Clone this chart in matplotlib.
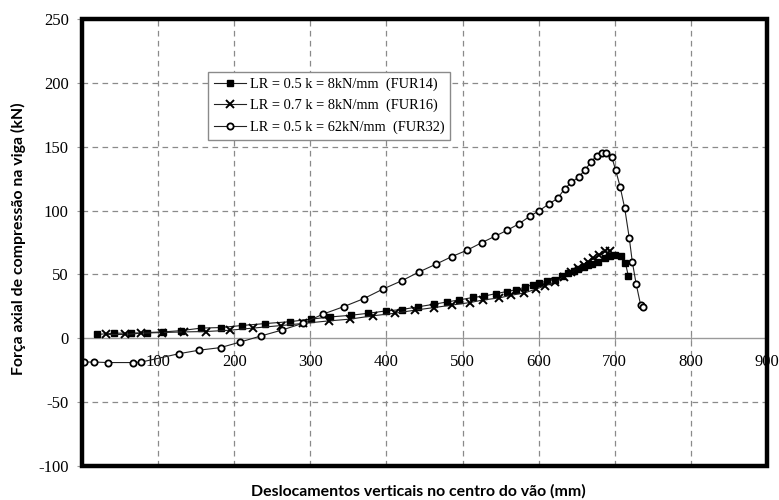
"""
Axial force vs mid-span displacement
"""

import matplotlib
matplotlib.use("Agg")
import matplotlib.pyplot as plt
from matplotlib.patches import Rectangle

# FUR14 - LR = 0.5, k = 8kN/mm
fur14_x = [20, 42, 64, 85, 107, 130, 157, 182, 210, 240, 273, 301, 326, 353, 376, 399,
           420, 441, 462, 480, 495, 514, 528, 544, 558, 570, 582, 592, 601, 611, 621,
           630, 639, 646, 652, 659, 665, 670, 678, 687, 694, 700, 708, 714, 718]
fur14_y = [3, 4, 4, 4.5, 5, 6, 8, 8.4, 10, 11.5, 13, 15, 16.7, 18, 19.6, 21.4,
           22.5, 24.6, 26.6, 28.5, 30, 32, 33, 35, 36.6, 38, 40, 42, 43.4, 44.7, 46,
           48.5, 51, 52.5, 54, 55.5, 57, 58, 60, 62.7, 64.5, 65.5, 64.5, 58.7, 48.4]

# FUR16 - LR = 0.7, k = 8kN/mm
fur16_x = [31, 57, 78, 105, 134, 163, 194, 225, 262, 290, 324, 352, 382, 411, 437, 462,
           486, 510, 527, 548, 564, 581, 596, 608, 621, 633, 643, 652, 659, 665, 672,
           679, 687, 694]
fur16_y = [3, 3, 4, 4.5, 5, 5.3, 6.3, 8, 10, 11.6, 13.6, 15, 17.6, 19.6, 22, 24,
           26, 28, 30, 31.6, 33.7, 35.5, 38.4, 41, 44, 48, 52, 55, 57.5, 60, 62.5,
           65, 68, 68.5]

# FUR32 - LR = 0.5, k = 62kN/mm
fur32_x = [2, 16, 34, 67, 78, 128, 154, 182, 208, 235, 263, 290, 317, 344, 370, 396,
           420, 443, 465, 486, 506, 525, 543, 559, 574, 588, 601, 613, 625, 634, 643,
           653, 661, 669, 676, 683, 689, 696, 701, 707, 713, 719, 723, 728, 734, 737]
fur32_y = [-18.6, -18.6, -19, -19, -18.6, -12, -9.3, -7.3, -2.9, 1.8, 6.5, 11.7, 19, 24.8, 31, 38.7,
           45, 52, 58, 64, 69, 74.8, 80, 84.7, 89.6, 95.4, 100, 105, 109.6, 117, 122,
           126.5, 132, 138, 143, 145, 145, 142, 132, 118.7, 102, 78.7, 60, 42.8, 26, 24.6]

labels = ["LR = 0.5 k = 8kN/mm  (FUR14)",
          "LR = 0.7 k = 8kN/mm  (FUR16)",
          "LR = 0.5 k = 62kN/mm  (FUR32)"]

x_ticks = [0, 100, 200, 300, 400, 500, 600, 700, 800, 900]
y_ticks = [-100, -50, 0, 50, 100, 150, 200, 250]

xlabel = "Deslocamentos verticais no centro do vão (mm)"
ylabel = "Força axial de compressão na viga (kN)"


def main():
    serif = "Liberation Serif"
    sans = "Lato"

    fig = plt.figure(figsize=(7.79, 5.0), dpi=100)
    ax = fig.add_axes([82 / 779, 1 - 466 / 500, 685 / 779, 447 / 500])

    ax.set_xlim(0, 900)
    ax.set_ylim(-100, 250)

    # dashed grid, zero line is the x axis itself
    for xv in x_ticks[1:-1]:
        ax.axvline(xv, color="#8a8a8a", lw=0.9, ls=(0, (4.5, 3.5)), zorder=1)
    for yv in y_ticks[1:-1]:
        if yv != 0:
            ax.axhline(yv, color="#8a8a8a", lw=0.9, ls=(0, (4.5, 3.5)), zorder=1)

    ax.plot(fur14_x, fur14_y, "-", color="#222222", lw=0.8, marker="s", ms=4.5,
            mfc="black", mec="black", label=labels[0], zorder=3)
    ax.plot(fur16_x, fur16_y, "-", color="#222222", lw=0.8, marker="x", ms=6,
            mew=1.4, mec="black", label=labels[1], zorder=3)
    ax.plot(fur32_x, fur32_y, "-", color="#222222", lw=0.8, marker="o", ms=4.5,
            mew=1.3, mfc="white", mec="black", label=labels[2], zorder=3)

    # x axis at y = 0, labels under it
    for s in ["top", "right", "left"]:
        ax.spines[s].set_visible(False)
    ax.spines["bottom"].set_position(("data", 0))
    ax.spines["bottom"].set_color("#9a9a9a")
    ax.spines["bottom"].set_linewidth(1.0)

    ax.set_xticks(x_ticks)
    ax.set_xticklabels([""] + [str(v) for v in x_ticks[1:]])
    ax.set_yticks(y_ticks)
    ax.set_yticklabels([str(v) for v in y_ticks])
    ax.tick_params(axis="x", direction="inout", length=4, width=0.8, color="#9a9a9a",
                   pad=9, labelsize=12)
    ax.tick_params(axis="y", direction="out", length=3.5, width=0.8, color="#9a9a9a",
                   pad=6, labelsize=12)
    for t in ax.get_xticklabels() + ax.get_yticklabels():
        t.set_fontfamily(serif)

    # heavy black frame
    ax.add_patch(Rectangle((0, 0), 1, 1, transform=ax.transAxes, fill=False,
                           ec="black", lw=3.2, clip_on=False, zorder=6))

    leg = ax.legend(loc="upper left", bbox_to_anchor=(0.184, 0.882), frameon=True,
                    fancybox=False, edgecolor="#8a8a8a", framealpha=1,
                    prop={"family": serif, "size": 10.4}, handlelength=2.2,
                    handletextpad=0.3, labelspacing=0.55, borderpad=0.4,
                    borderaxespad=0)
    leg.get_frame().set_linewidth(1.0)
    leg.set_zorder(7)

    fig.text(418 / 779, 1 - 491 / 500, xlabel, ha="center", va="center",
             fontsize=11.4, fontweight="bold", family=sans)
    fig.text(18 / 779, 1 - 239 / 500, ylabel, ha="center", va="center",
             rotation=90, fontsize=11.4, fontweight="bold", family=sans)

    fig.savefig("out.png", dpi=100)


if __name__ == '__main__':
    main()
